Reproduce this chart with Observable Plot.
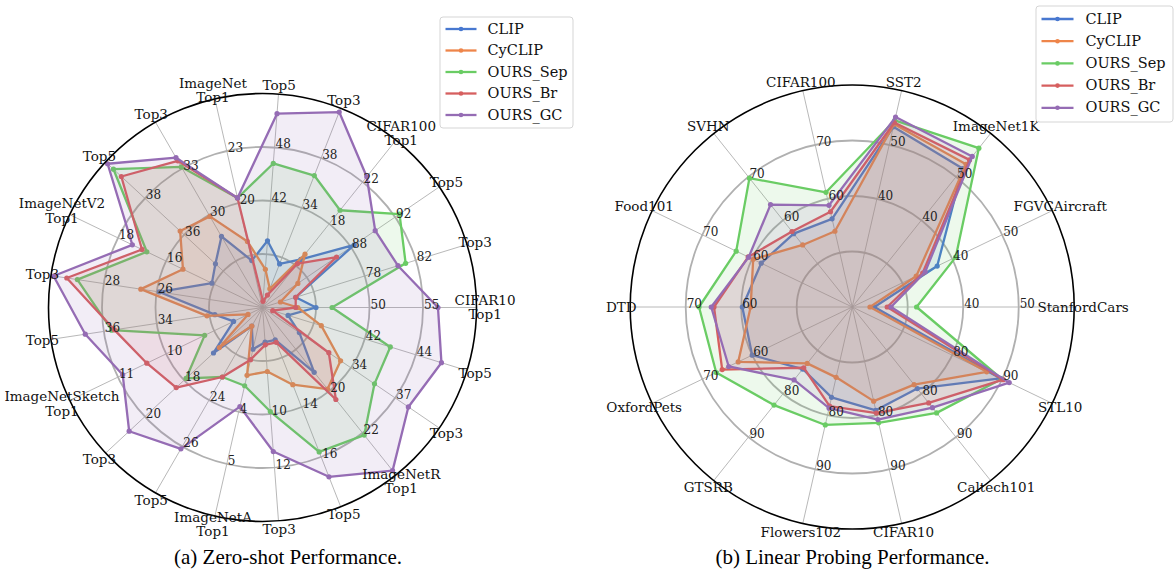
<!DOCTYPE html>
<html>
<head>
<meta charset="utf-8">
<script src="https://cdn.jsdelivr.net/npm/d3@7"></script>
<script src="https://cdn.jsdelivr.net/npm/@observablehq/plot@0.6"></script>
<style>
  html, body { margin: 0; padding: 0; background: #fff; }
  #chart svg { display: block; overflow: visible; }
</style>
</head>
<body>
<div id="chart"></div>
<script>
// ---------------- data ----------------
const seriesNames = ["CLIP", "CyCLIP", "OURS_Sep", "OURS_Br", "OURS_GC"];
const seriesColors = ["#4878d0", "#ee854a", "#6acc64", "#d65f5f", "#956cb4"];

// (a) Zero-shot
const zsAxes = ["CIFAR10\nTop1", "Top3", "Top5", "CIFAR100\nTop1", "Top3", "Top5",
  "ImageNet\nTop1", "Top3", "Top5", "ImageNetV2\nTop1", "Top3", "Top5",
  "ImageNetSketch\nTop1", "Top3", "Top5", "ImageNetA\nTop1", "Top3", "Top5",
  "ImageNetR\nTop1", "Top3", "Top5"];
const zsTicks = [[50, 55], [78, 82], [88, 92], [18, 22], [34, 38], [42, 48],
  [20, 23], [30, 33], [36, 38], [16, 18], [26, 28], [34, 36],
  [10, 11], [18, 20], [24, 26], [4, 5], [10, 12], [14, 16],
  [20, 22], [34, 37], [42, 44]];
const zsCLIP    = [45.0, 72.6, 88.3, 14.6, 29.5, 37.5, 16.7, 28.6, 34.4, 14.1, 25.9, 31.8, 8.6, 16.5, 20.8, 2.8, 7.3, 11.3, 19.1, 30.5, 39.0];
const zsCyCLIP  = [43.3, 71.4, 83.2, 15.1, 27.5, 34.3, 17.8, 29.9, 36.2, 15.3, 26.6, 32.1, 8.3, 16.2, 20.8, 3.3, 8.4, 13.1, 19.9, 33.3, 40.3];
const zsSep     = [46.5, 81.2, 92.4, 19.3, 36.6, 46.2, 20.3, 33.1, 39.6, 16.8, 29.0, 35.7, 9.2, 17.9, 23.0, 3.5, 9.9, 15.8, 22.1, 35.6, 43.0];
const zsBr      = [43.1, 72.6, 86.7, 14.2, 27.0, 30.7, 20.3, 33.5, 39.2, 17.0, 29.4, 35.6, 10.4, 18.4, 23.0, 3.0, 7.4, 11.4, 20.4, 32.5, 38.4];
const zsGC      = [56.4, 80.6, 90.2, 22.5, 41.7, 51.8, 20.3, 33.7, 39.9, 17.4, 29.9, 36.7, 10.9, 20.8, 26.1, 3.9, 11.4, 16.8, 23.8, 37.9, 45.0];

// (b) Linear probing
const lpAxes = ["StanfordCars", "FGVCAircraft", "ImageNet1K", "SST2", "CIFAR100", "SVHN",
  "Food101", "DTD", "OxfordPets", "GTSRB", "Flowers102", "CIFAR10", "Caltech101", "STL10"];
const lpTicks = [[40, 50], [40, 50], [40, 50], [40, 50], [60, 70], [60, 70], [60, 70],
  [60, 70], [60, 70], [80, 90], [80, 90], [80, 90], [80, 90], [80, 90]];
const lpCLIP   = [24.0, 37.0, 51.9, 53.3, 56.3, 56.9, 58.2, 59.8, 60.0, 74.3, 76.7, 79.1, 78.8, 89.6];
const lpCyCLIP = [23.2, 32.8, 52.9, 53.8, 54.0, 54.3, 59.8, 58.3, 62.8, 73.0, 73.0, 77.4, 77.9, 86.9];
const lpSep    = [31.6, 40.7, 56.6, 54.5, 61.2, 69.7, 63.2, 67.6, 67.2, 82.6, 81.8, 81.4, 84.4, 89.9];
const lpBr     = [26.3, 34.1, 53.9, 54.1, 57.6, 57.4, 60.8, 64.9, 66.0, 74.0, 78.3, 79.6, 82.1, 90.2];
const lpGC     = [27.0, 34.6, 54.7, 55.1, 58.8, 63.6, 60.7, 65.4, 64.7, 76.8, 78.7, 80.8, 83.2, 91.4];

const captions = ["(a) Zero-shot Performance.", "(b) Linear Probing Performance."];

// ---------------- layout ----------------
const W = 1175, H = 574;
const SERIF = "'DejaVu Serif', serif";
const panels = [
  {axes: zsAxes, ticks: zsTicks, values: [zsCLIP, zsCyCLIP, zsSep, zsBr, zsGC],
   cx: 262, cy: 307, R: 214, caption: captions[0], capX: 287.5,
   leg: {x1: 440, x2: 573, y1: 17, y2: 128, l1: 445, l2: 476, tx: 487, y0: 28.5, dy: 21.5}},
  {axes: lpAxes, ticks: lpTicks, values: [lpCLIP, lpCyCLIP, lpSep, lpBr, lpGC],
   cx: 851.7, cy: 306.5, R: 222, caption: captions[1], capX: 852,
   leg: {x1: 1036, x2: 1173, y1: 6, y2: 122, l1: 1041, l2: 1073, tx: 1085, y0: 18.5, dy: 22.2}}
];

function frac(v, t) { return 0.5 + 0.25 * (v - t[0]) / (t[1] - t[0]); }
function pt(p, i, f) {
  const a = 2 * Math.PI * i / p.axes.length;
  return {x: p.cx + f * p.R * Math.cos(a), y: p.cy - f * p.R * Math.sin(a)};
}

const marks = [];
for (const p of panels) {
  const n = p.axes.length;
  const center = [{x: p.cx, y: p.cy}];
  // spokes
  const spokes = p.axes.map((_, i) => {
    const o = pt(p, i, 1);
    return {x1: p.cx, y1: p.cy, x2: o.x, y2: o.y};
  });
  marks.push(Plot.link(spokes, {x1: "x1", y1: "y1", x2: "x2", y2: "y2", stroke: "#b0b0b0", strokeWidth: 0.9}));
  // rings
  for (const f of [0.25, 0.5, 0.75]) {
    marks.push(Plot.dot(center, {x: "x", y: "y", r: f * p.R, fill: "none", stroke: "#b0b0b0", strokeWidth: 1.8}));
  }
  // series polygons
  p.values.forEach((vals, s) => {
    const rows = vals.map((v, i) => ({...pt(p, i, frac(v, p.ticks[i])), v, name: seriesNames[s]}));
    marks.push(Plot.line(rows, {x: "x", y: "y", curve: "linear-closed", fill: seriesColors[s], fillOpacity: 0.12, stroke: "none"}));
    marks.push(Plot.line(rows, {x: "x", y: "y", curve: "linear-closed", stroke: seriesColors[s], strokeWidth: 2.3}));
    marks.push(Plot.dot(rows, {x: "x", y: "y", r: 2.6, fill: seriesColors[s], stroke: "none"}));
  });
  // outer circle
  marks.push(Plot.dot(center, {x: "x", y: "y", r: p.R, fill: "none", stroke: "#000", strokeWidth: 1.6}));
  // tick labels on each spoke
  const tickRows = [];
  p.ticks.forEach((t, i) => {
    tickRows.push({...pt(p, i, 0.5), label: String(t[0])});
    tickRows.push({...pt(p, i, 0.75), label: String(t[1])});
  });
  marks.push(Plot.text(tickRows, {x: "x", y: "y", text: "label", textAnchor: "start", lineAnchor: "bottom",
    dx: 1, dy: 1, fontSize: 12, fill: "#222", fontFamily: SERIF}));
  // axis labels
  const labRows = p.axes.map((name, i) => ({...pt(p, i, 1.04), name}));
  marks.push(Plot.text(labRows, {x: "x", y: "y", text: "name", textAnchor: "middle", lineAnchor: "middle",
    lineHeight: 1.08, fontSize: 13.5, fill: "#111", fontFamily: SERIF}));
  // legend
  const L = p.leg;
  marks.push(Plot.rect([L], {x1: "x1", x2: "x2", y1: "y1", y2: "y2", fill: "#fff", fillOpacity: 0.85,
    stroke: "#d5d5d5", strokeWidth: 1, rx: 3}));
  const legRows = seriesNames.map((name, s) => ({name, color: seriesColors[s], y: L.y0 + s * L.dy,
    x1: L.l1, x2: L.l2, xm: (L.l1 + L.l2) / 2, tx: L.tx}));
  marks.push(Plot.link(legRows, {x1: "x1", x2: "x2", y1: "y", y2: "y", stroke: "color", strokeWidth: 2.3}));
  marks.push(Plot.dot(legRows, {x: "xm", y: "y", r: 2.3, fill: "color", stroke: "none"}));
  marks.push(Plot.text(legRows, {x: "tx", y: "y", text: "name", textAnchor: "start", lineAnchor: "middle",
    fontSize: 14.5, fill: "#111", fontFamily: SERIF}));
  // caption
  marks.push(Plot.text([{x: p.capX, y: 563, t: p.caption}], {x: "x", y: "y", text: "t", textAnchor: "middle",
    lineAnchor: "bottom", fontSize: 21, fill: "#000", fontFamily: "'Liberation Serif', 'Times New Roman', serif"}));
}

const chart = Plot.plot({
  width: W, height: H,
  marginTop: 0, marginRight: 0, marginBottom: 0, marginLeft: 0,
  x: {type: "linear", domain: [0, W], range: [0, W], axis: null},
  y: {type: "linear", domain: [0, H], range: [0, H], axis: null},
  color: {type: "identity"},
  style: {fontFamily: SERIF, background: "#fff", overflow: "visible"},
  marks
});
document.getElementById("chart").appendChild(chart);
</script>
</body>
</html>
